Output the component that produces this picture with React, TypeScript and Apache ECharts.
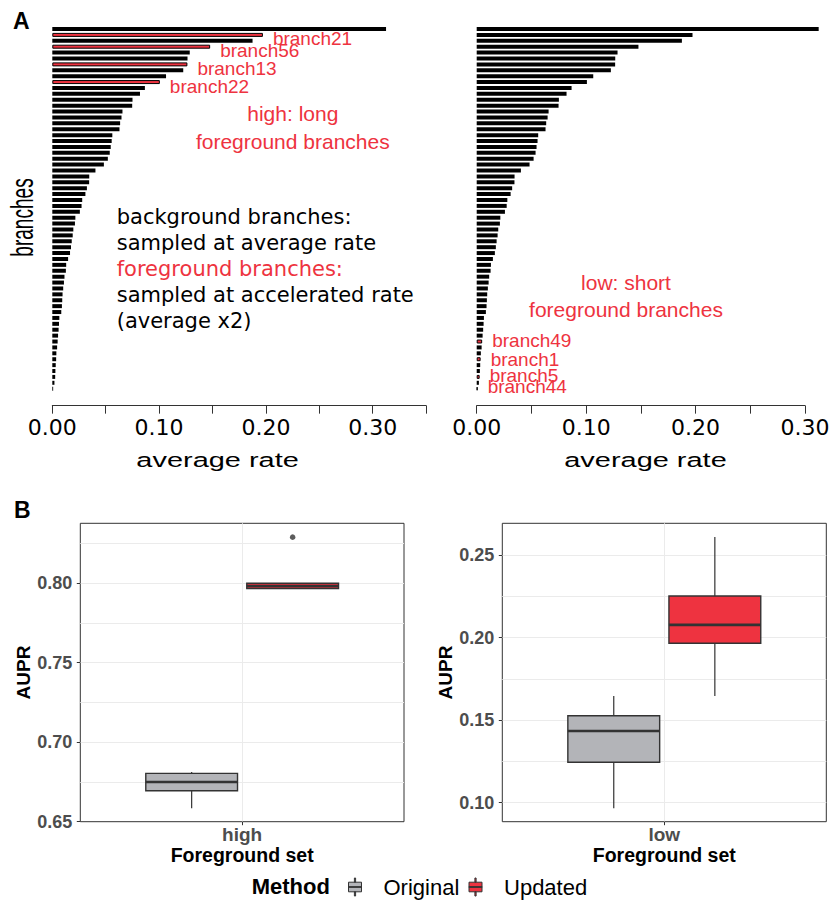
import { useEffect, useRef } from 'react';
import * as echarts from 'echarts';

// ---------- Panel A data: branch average rates (sorted, longest first) ----------
const branchRates = [
  0.3125, 0.1972, 0.1875, 0.1478, 0.1287, 0.1266, 0.1265, 0.1226, 0.1065, 0.1007,
  0.0867, 0.0821, 0.0751, 0.0748, 0.0657, 0.0648, 0.0635, 0.0629, 0.0562, 0.0556,
  0.0547, 0.0538, 0.0520, 0.0483, 0.0404, 0.0346, 0.0345, 0.0324, 0.0310, 0.0280,
  0.0274, 0.0258, 0.0216, 0.0212, 0.0197, 0.0191, 0.0182, 0.0175, 0.0166, 0.0148,
  0.0130, 0.0127, 0.0114, 0.0109, 0.0102, 0.0096, 0.0093, 0.0090, 0.0084, 0.0066,
  0.0063, 0.0059, 0.0054, 0.0050, 0.0045, 0.0038, 0.0036, 0.0032, 0.0029, 0.0027,
  0.0020, 0.0008,
];
const branchRanks = branchRates.map((_, i) => `rank${i + 1}`);
const highForeground = ['branch21', 'branch56', 'branch13', 'branch22'];
const highForegroundRanks = [2, 4, 7, 10];
const lowForeground = ['branch49', 'branch1', 'branch5', 'branch44'];
const lowForegroundRanks = [54, 57, 60, 62];
const rateTickValues = [0, 0.1, 0.2, 0.3];
const rateTickLabels = ['0.00', '0.10', '0.20', '0.30'];

// ---------- Panel B data: AUPR boxplot stats [min, Q1, median, Q3, max] ----------
const methods = ['Original', 'Updated'];
const foregroundSets = ['high', 'low'];
const highOriginal = [0.6584, 0.6695, 0.675, 0.6804, 0.6813];
const highUpdated = [0.7966, 0.7966, 0.7982, 0.8, 0.8];
const highUpdatedOutliers = [0.829];
const lowOriginal = [0.0966, 0.1245, 0.1434, 0.1527, 0.1646];
const lowUpdated = [0.1646, 0.1966, 0.2077, 0.2252, 0.2609];
const highAuprTicks = [0.65, 0.7, 0.75, 0.8];
const lowAuprTicks = [0.1, 0.15, 0.2, 0.25];
const highAuprRange = [0.65, 0.8377];
const lowAuprRange = [0.0885, 0.2692];

// ---------- styles ----------
const RED = '#EE3340';
const GREY = '#B3B4B8';
const DARK = '#333333';
const GRIDLINE = '#EBEBEB';
const SANS = '"Liberation Sans", Arial, Helvetica, sans-serif';
const DEJAVU = '"DejaVu Sans", sans-serif';

const BOX_DODGE = 0.156; // fraction of category band
const BOX_HALF = 0.1417; // fraction of category band

function barData(ranks: number[], names: string[], dys: number[]) {
  return branchRates.map((v, i) => {
    const k = ranks.indexOf(i + 1);
    if (k < 0) return { value: v };
    return {
      value: v,
      itemStyle: { color: RED, borderColor: '#000', borderWidth: 1 },
      label: {
        show: true,
        position: 'right',
        distance: 10,
        offset: [0, dys[k]],
        formatter: names[k],
        color: RED,
        fontSize: 19,
        fontFamily: SANS,
      },
    };
  });
}

function rateAxis(gridIndex: number, max: number) {
  return {
    type: 'value',
    gridIndex,
    min: 0,
    max,
    interval: 0.05,
    position: 'bottom',
    offset: 14,
    axisLine: { show: true, onZero: false, lineStyle: { color: DARK, width: 1 } },
    axisTick: { show: true, length: 8, lineStyle: { color: DARK, width: 1 } },
    axisLabel: {
      customValues: rateTickValues,
      formatter: (v: number) => rateTickLabels[Math.round(v / 0.1)] ?? '',
      fontFamily: DEJAVU,
      fontSize: 22,
      color: '#000',
      margin: 11,
    },
    splitLine: { show: false },
  };
}

function branchAxis(gridIndex: number) {
  return {
    type: 'category',
    gridIndex,
    data: branchRanks,
    inverse: true,
    axisLine: { show: false, onZero: false },
    axisTick: { show: false },
    axisLabel: { show: false },
    splitLine: { show: false },
  };
}

function setAxis(gridIndex: number, label: string) {
  return {
    type: 'category',
    gridIndex,
    data: [label],
    position: 'bottom',
    axisLine: { show: false, onZero: false },
    axisTick: { show: true, alignWithLabel: true, length: 3.5, lineStyle: { color: DARK, width: 1 } },
    axisLabel: { fontFamily: SANS, fontWeight: 'bold', fontSize: 19, color: '#4D4D4D', margin: 3 },
    splitLine: { show: false },
    name: 'Foreground set',
    nameLocation: 'middle',
    nameGap: 23.5,
    nameTextStyle: { fontFamily: SANS, fontWeight: 'bold', fontSize: 19.5, color: '#000' },
  };
}

function setGridAxis(gridIndex: number) {
  return {
    type: 'value',
    gridIndex,
    min: -1,
    max: 1,
    interval: 1,
    position: 'bottom',
    axisLine: { show: false, onZero: false },
    axisTick: { show: false },
    axisLabel: { show: false },
    splitLine: { show: true, showMinLine: false, showMaxLine: false, lineStyle: { color: GRIDLINE, width: 1 } },
  };
}

function auprAxis(gridIndex: number, range: number[], ticks: number[]) {
  return {
    type: 'value',
    gridIndex,
    min: range[0],
    max: range[1],
    minInterval: 0.05,
    maxInterval: 0.05,
    position: 'left',
    axisLine: { show: false, onZero: false },
    axisTick: { show: true, customValues: ticks, length: 3.5, lineStyle: { color: DARK, width: 1 } },
    axisLabel: {
      customValues: ticks,
      formatter: (v: number) => v.toFixed(2),
      fontFamily: SANS,
      fontWeight: 'bold',
      fontSize: 18,
      color: '#4D4D4D',
      margin: 8,
    },
    splitLine: { show: false },
    name: 'AUPR',
    nameLocation: 'middle',
    nameRotate: 90,
    nameGap: 47,
    nameTextStyle: { fontFamily: SANS, fontWeight: 'bold', fontSize: 19, color: '#000' },
  };
}

function auprGridAxis(gridIndex: number, range: number[]) {
  return {
    type: 'value',
    gridIndex,
    min: range[0],
    max: range[1],
    minInterval: 0.025,
    maxInterval: 0.025,
    position: 'left',
    axisLine: { show: false, onZero: false },
    axisTick: { show: false },
    axisLabel: { show: false },
    splitLine: { show: true, showMinLine: false, showMaxLine: false, lineStyle: { color: GRIDLINE, width: 1 } },
  };
}

function boxSeries(name: string, axisIndex: number, set: string, stats: number[], dodge: number, fill: string) {
  return {
    type: 'custom',
    name,
    xAxisIndex: axisIndex,
    yAxisIndex: axisIndex,
    itemStyle: { color: fill },
    encode: { x: 0, y: [1, 2, 3, 4, 5] },
    data: [[set, ...stats]],
    renderItem: (_params: any, api: any) => {
      const band = api.size([1, 0])[0];
      const xv = api.value(0);
      const cx = api.coord([xv, api.value(3)])[0] + dodge * band;
      const half = BOX_HALF * band;
      const y = (d: number) => api.coord([xv, api.value(d)])[1];
      const yMin = y(1), yQ1 = y(2), yMed = y(3), yQ3 = y(4), yMax = y(5);
      return {
        type: 'group',
        children: [
          { type: 'line', shape: { x1: cx, y1: yMax, x2: cx, y2: yQ3 }, style: { stroke: DARK, lineWidth: 1.2 } },
          { type: 'line', shape: { x1: cx, y1: yQ1, x2: cx, y2: yMin }, style: { stroke: DARK, lineWidth: 1.2 } },
          {
            type: 'rect',
            shape: { x: cx - half, y: yQ3, width: 2 * half, height: yQ1 - yQ3 },
            style: { fill, stroke: DARK, lineWidth: 1.4 },
          },
          { type: 'line', shape: { x1: cx - half, y1: yMed, x2: cx + half, y2: yMed }, style: { stroke: DARK, lineWidth: 2.6 } },
        ],
      };
    },
  };
}

const BOX_ICON = 'path://M5.9,0h1.2v4.2h-1.2z M0,4.2h13v9.6h-13z M0,8.6h13v0.8h-13z M5.9,13.8h1.2v4.2h-1.2z';

function txt(text: string, x: number, y: number, font: string, fill = '#000', align = 'left', extra: any = {}) {
  return {
    type: 'text',
    x,
    y,
    ...extra,
    style: { text, font, fill, align, verticalAlign: 'middle' },
  };
}

const gridBLeft = { left: 80.3, top: 523.3, width: 323.7, height: 298.4 };
const gridBRight = { left: 502.3, top: 523.3, width: 324, height: 298.4 };

export default function App() {
  const ref = useRef<HTMLDivElement>(null);
  useEffect(() => {
    if (!ref.current) return;
    const chart = echarts.init(ref.current, undefined, { renderer: 'svg' });
    const option: any = {
      animation: false,
      backgroundColor: '#ffffff',
      grid: [
        { left: 52.3, top: 26.05, width: 373.8, height: 365.6, outerBoundsMode: 'none' },
        { left: 476.7, top: 26.05, width: 328.3, height: 365.6, outerBoundsMode: 'none' },
        { ...gridBLeft, show: true, borderColor: DARK, borderWidth: 1, backgroundColor: 'transparent', outerBoundsMode: 'none' },
        { ...gridBRight, show: true, borderColor: DARK, borderWidth: 1, backgroundColor: 'transparent', outerBoundsMode: 'none' },
      ],
      xAxis: [
        rateAxis(0, 0.35),
        rateAxis(1, 0.3),
        setAxis(2, foregroundSets[0]),
        setGridAxis(2),
        setAxis(3, foregroundSets[1]),
        setGridAxis(3),
      ],
      yAxis: [
        branchAxis(0),
        branchAxis(1),
        auprAxis(2, highAuprRange, highAuprTicks),
        auprGridAxis(2, highAuprRange),
        auprAxis(3, lowAuprRange, lowAuprTicks),
        auprGridAxis(3, lowAuprRange),
      ],
      legend: {
        data: methods.map((m) => ({ name: m, icon: BOX_ICON })),
        left: 348,
        top: 876,
        padding: 0,
        itemWidth: 13,
        itemHeight: 18,
        itemGap: 9.2,
        selectedMode: false,
        itemStyle: { borderColor: DARK, borderWidth: 1 },
        textStyle: { fontFamily: SANS, fontSize: 22, color: '#000', padding: [0, 0, 0, 17] },
      },
      series: [
        {
          type: 'bar',
          name: 'high rates',
          xAxisIndex: 0,
          yAxisIndex: 0,
          barWidth: 4,
          itemStyle: { color: '#000' },
          data: barData(highForegroundRanks, highForeground, [4, 4, 4, 4]),
        },
        {
          type: 'bar',
          name: 'low rates',
          xAxisIndex: 1,
          yAxisIndex: 1,
          barWidth: 4,
          clip: false,
          itemStyle: { color: '#000' },
          data: barData(lowForegroundRanks, lowForeground, [-1, 0, -1, -2]),
        },
        boxSeries(methods[0], 2, foregroundSets[0], highOriginal, -BOX_DODGE, GREY),
        boxSeries(methods[1], 2, foregroundSets[0], highUpdated, BOX_DODGE, RED),
        {
          type: 'scatter',
          name: 'outliers',
          xAxisIndex: 2,
          yAxisIndex: 2,
          symbolSize: 5.5,
          symbolOffset: [BOX_DODGE * gridBLeft.width, 0],
          itemStyle: { color: DARK },
          data: highUpdatedOutliers.map((v) => [foregroundSets[0], v]),
        },
        boxSeries(methods[0], 4, foregroundSets[1], lowOriginal, -BOX_DODGE, GREY),
        boxSeries(methods[1], 4, foregroundSets[1], lowUpdated, BOX_DODGE, RED),
      ],
      graphic: [
        txt('A', 13, 21, `bold 23px ${SANS}`),
        txt('B', 14, 510, `bold 23px ${SANS}`),
        txt('branches', 22.6, 217.5, `31px ${SANS}`, '#000', 'center', { rotation: Math.PI / 2, scaleX: 0.615 }),
        txt('average rate', 217.6, 460, `19.3px ${SANS}`, '#000', 'center', { scaleX: 1.5 }),
        txt('average rate', 645.5, 460, `19.3px ${SANS}`, '#000', 'center', { scaleX: 1.5 }),
        txt('high: long', 292.8, 113.7, `21px ${SANS}`, RED, 'center'),
        txt('foreground branches', 292.8, 141.7, `21px ${SANS}`, RED, 'center'),
        txt('low: short', 626, 282, `21px ${SANS}`, RED, 'center'),
        txt('foreground branches', 626, 309, `21px ${SANS}`, RED, 'center'),
        txt('background branches:', 116.7, 216.7, `21px ${DEJAVU}`),
        txt('sampled at average rate', 116.7, 242.7, `21px ${DEJAVU}`),
        txt('foreground branches:', 116.7, 269, `21px ${DEJAVU}`, RED),
        txt('sampled at accelerated rate', 116.7, 295, `21px ${DEJAVU}`),
        txt('(average x2)', 116.7, 321.4, `21px ${DEJAVU}`),
        txt('Method', 251.7, 886, `bold 22px ${SANS}`),
      ],
    };
    chart.setOption(option);
    return () => chart.dispose();
  }, []);
  return (
    <div
      ref={ref}
      style={{ position: 'absolute', left: 0, top: 0, width: 833, height: 904, background: '#fff' }}
    />
  );
}
